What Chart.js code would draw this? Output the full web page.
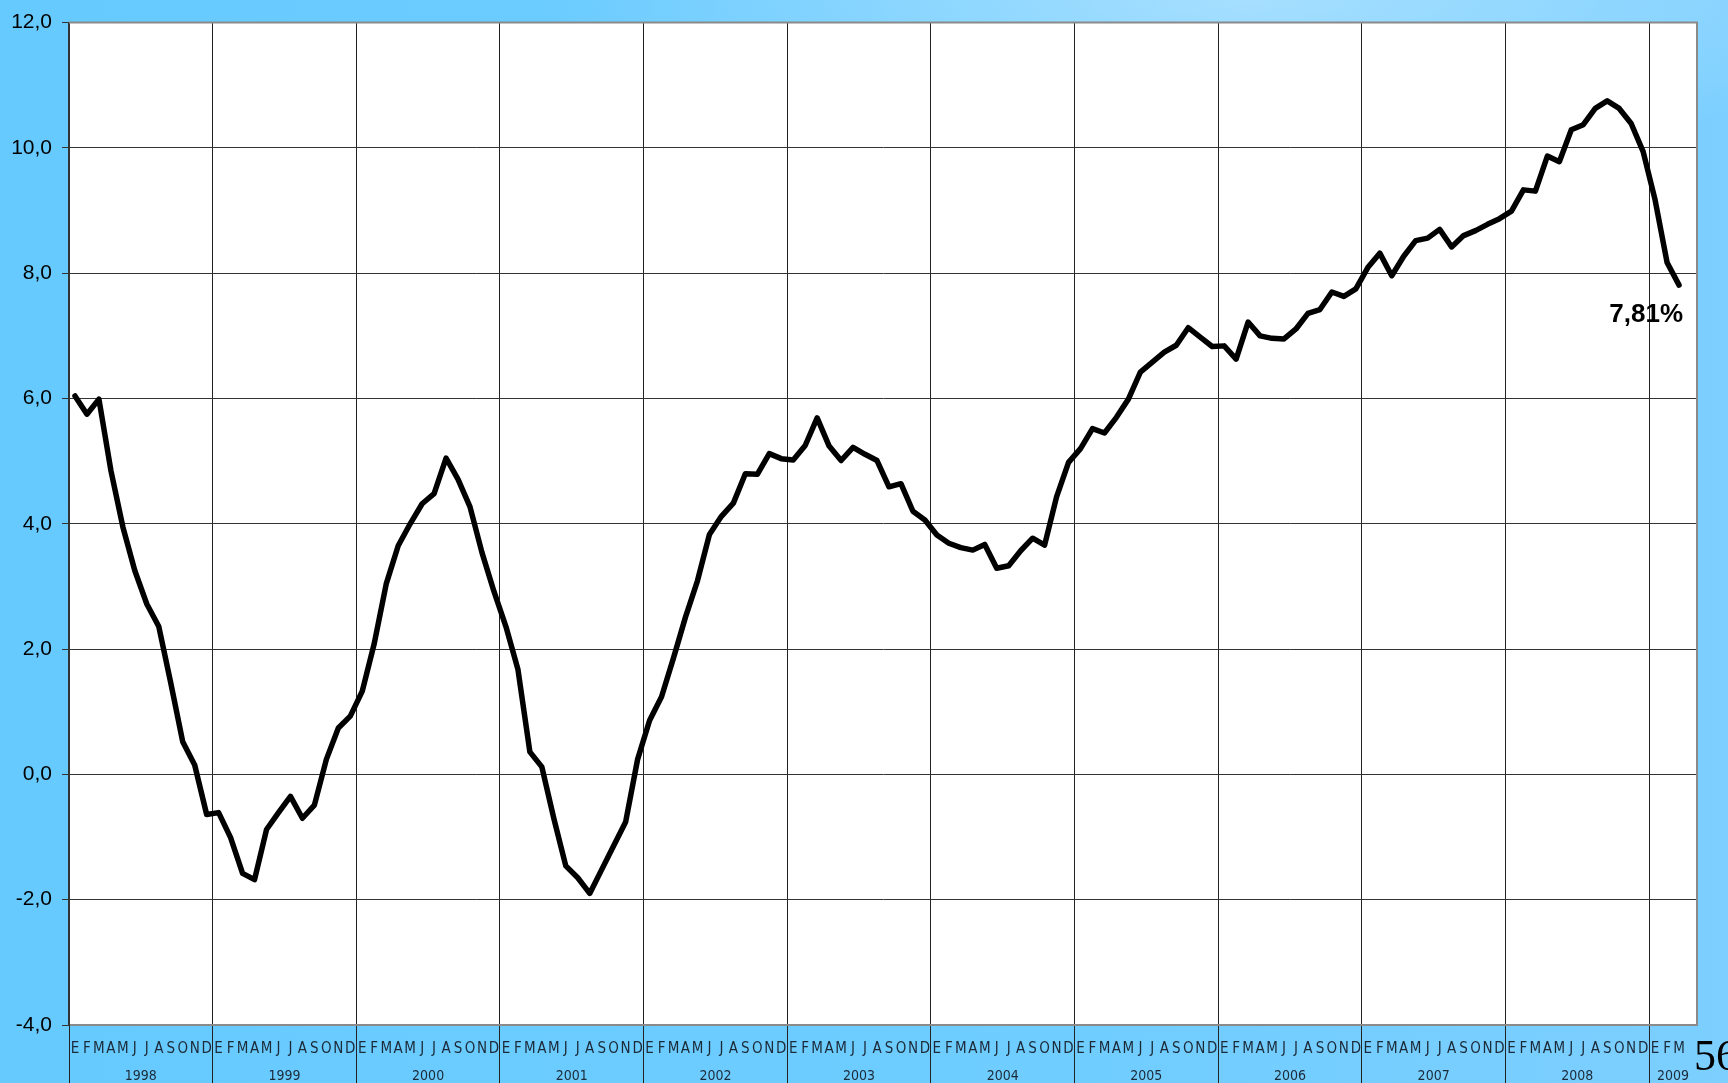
<!DOCTYPE html>
<html>
<head>
<meta charset="utf-8">
<script src="https://cdn.jsdelivr.net/npm/chart.js@4"></script>
<style>
  html, body { margin: 0; padding: 0; overflow: hidden; }
  body {
    width: 1728px; height: 1083px; position: relative;
    background:
      radial-gradient(ellipse 700px 160px at 1250px 0px, #a6dfff 0%, rgba(166,223,255,0) 100%),
      linear-gradient(to right, #66caff 0%, #6fcdff 60%, #7ccfff 100%);
  }
  #chart { position: absolute; left: 0; top: 0; }
  #slideNo {
    position: absolute; left: 1694px; top: 1030px;
    font-family: 'Liberation Serif', 'DejaVu Serif', serif; font-size: 44px; color: #000;
    white-space: nowrap;
  }
</style>
</head>
<body>
<canvas id="chart" width="1728" height="1083"></canvas>
<div id="slideNo">56</div>
<script>
const monthLetters = ['E', 'F', 'M', 'A', 'M', 'J', 'J', 'A', 'S', 'O', 'N', 'D'];
const years = ['1998', '1999', '2000', '2001', '2002', '2003', '2004', '2005', '2006', '2007', '2008', '2009'];
const yTicks = [-4, -2, 0, 2, 4, 6, 8, 10, 12];

// monthly values (%)
const v1998 = [6.04, 5.75, 5.99, 4.85, 3.95, 3.25, 2.72, 2.36, 1.46, 0.52, 0.15, -0.64];
const v1999 = [-0.61, -1.01, -1.58, -1.68, -0.88, -0.61, -0.35, -0.70, -0.49, 0.24, 0.74, 0.93];
const v2000 = [1.33, 2.09, 3.04, 3.65, 4.00, 4.32, 4.48, 5.05, 4.71, 4.27, 3.54, 2.92];
const v2001 = [2.36, 1.68, 0.36, 0.12, -0.70, -1.46, -1.65, -1.90, -1.52, -1.14, -0.76, 0.24];
const v2002 = [0.86, 1.24, 1.86, 2.51, 3.09, 3.83, 4.12, 4.33, 4.80, 4.79, 5.12, 5.04];
const v2003 = [5.02, 5.25, 5.69, 5.24, 5.01, 5.22, 5.11, 5.01, 4.59, 4.64, 4.20, 4.06];
const v2004 = [3.82, 3.69, 3.62, 3.58, 3.67, 3.29, 3.33, 3.57, 3.77, 3.66, 4.43, 4.98];
const v2005 = [5.20, 5.52, 5.45, 5.70, 5.99, 6.42, 6.58, 6.74, 6.85, 7.13, 6.98, 6.83];
const v2006 = [6.84, 6.63, 7.22, 7.00, 6.96, 6.95, 7.11, 7.36, 7.42, 7.70, 7.63, 7.75];
const v2007 = [8.09, 8.32, 7.96, 8.27, 8.52, 8.56, 8.70, 8.42, 8.60, 8.68, 8.78, 8.87];
const v2008 = [8.99, 9.33, 9.31, 9.87, 9.78, 10.29, 10.37, 10.63, 10.75, 10.63, 10.39, 9.94];
const v2009 = [9.17, 8.17, 7.81];

const lastLabel = '7,81%';

// 2009 axis gets one spare empty month after March
const labels = [];
years.forEach(y => {
  const n = y === '2009' ? 4 : 12;
  for (let m = 0; m < n; m++) labels.push(m < 3 || y !== '2009' ? monthLetters[m] : '');
});
const values = [].concat(v1998, v1999, v2000, v2001, v2002, v2003, v2004, v2005, v2006, v2007, v2008, v2009);
while (values.length < labels.length) values.push(null);

const narrowFont = "'Liberation Sans Narrow', 'DejaVu Sans Condensed', 'Liberation Sans', sans-serif";

const plotBackground = {
  id: 'plotBackground',
  beforeDraw(chart) {
    const { ctx, chartArea: a } = chart;
    ctx.save();
    ctx.fillStyle = '#ffffff';
    ctx.fillRect(a.left, a.top, a.right - a.left, a.bottom - a.top);
    ctx.restore();
  },
  afterDraw(chart) {
    const { ctx, chartArea: a } = chart;
    const x = chart.scales.x;
    ctx.save();
    // top and right frame
    ctx.strokeStyle = '#8a8a8a';
    ctx.lineWidth = 2;
    ctx.beginPath();
    ctx.moveTo(a.left, a.top);
    ctx.lineTo(a.right, a.top);
    ctx.lineTo(a.right, a.bottom);
    ctx.stroke();

    // year labels under the month letters
    ctx.fillStyle = '#1c2a38';
    ctx.font = '14px ' + narrowFont;
    ctx.textAlign = 'center';
    ctx.textBaseline = 'middle';
    let start = 0;
    years.forEach(y => {
      const n = y === '2009' ? 4 : 12;
      const cx = (x.getPixelForValue(start) + x.getPixelForValue(start + n - 1)) / 2;
      ctx.fillText(y, cx, 1076);
      start += n;
    });

    // label on last point
    const meta = chart.getDatasetMeta(0);
    const lastIdx = values.length - 1 - [...values].reverse().findIndex(v => v !== null);
    const pt = meta.data[lastIdx];
    ctx.fillStyle = '#000';
    ctx.font = 'bold 26px "Liberation Sans", Arial, sans-serif';
    ctx.textAlign = 'right';
    ctx.fillText(lastLabel, pt.x + 4, pt.y + 30);
    ctx.restore();
  }
};

new Chart(document.getElementById('chart'), {
  type: 'line',
  data: {
    labels: labels,
    datasets: [{
      data: values,
      borderColor: '#000000',
      borderWidth: 5.5,
      pointRadius: 0,
      tension: 0,
      borderJoinStyle: 'round',
      borderCapStyle: 'round',
      fill: false
    }]
  },
  options: {
    responsive: false,
    animation: false,
    layout: { padding: { top: 19, right: 31, left: 0, bottom: 0 } },
    plugins: { legend: { display: false }, tooltip: { enabled: false } },
    scales: {
      x: {
        type: 'category',
        offset: true,
        grid: {
          offset: true,
          color: ctx => (ctx.index % 12 === 0 ? '#222222' : 'rgba(0,0,0,0)'),
          tickLength: 58,
          lineWidth: 1
        },
        border: { color: '#8a8a8a', width: 2 },
        ticks: {
          autoSkip: false,
          maxRotation: 0,
          minRotation: 0,
          padding: -43,
          color: '#1c2a38',
          font: { family: narrowFont, size: 15 }
        },
        afterFit(scale) { scale.height = 58; }
      },
      y: {
        min: -4,
        max: 12,
        afterBuildTicks(scale) { scale.ticks = yTicks.map(v => ({ value: v })); },
        grid: { color: '#333333', lineWidth: 1, tickLength: 7 },
        border: { color: '#333333', width: 2 },
        ticks: {
          padding: 10,
          color: '#000',
          font: { family: "'Liberation Sans', Arial, sans-serif", size: 21 },
          callback: v => v.toFixed(1).replace('.', ',')
        },
        afterFit(scale) { scale.width = 69; }
      }
    }
  },
  plugins: [plotBackground]
});
</script>
</body>
</html>
